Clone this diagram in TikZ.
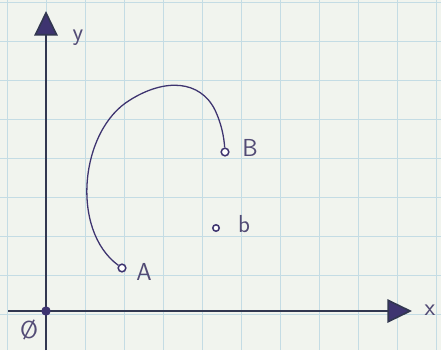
\documentclass[tikz,border=0pt]{standalone}
\usetikzlibrary{positioning, arrows.meta, calc}
\definecolor{paper}{RGB}{241,244,238}
\definecolor{gridblue}{RGB}{196,220,228}
\definecolor{ink}{RGB}{62,52,112}
\definecolor{axisink}{RGB}{50,55,80}

\begin{document}
\begin{tikzpicture}[x=0.03cm, y=-0.03cm,
    pt/.style={circle, draw=ink, line width=1.3pt, fill=white, inner sep=0pt, minimum size=6.5pt},
    lbl/.style={font=\sffamily\fontsize{21}{24}\selectfont, text=ink!70!gray, inner sep=1pt},
    axis/.style={axisink, line width=1.4pt, -{Triangle[length=21pt, width=20pt, fill=ink]}}]
    % paper and grid
    \fill[paper] (0,0) rectangle (441,350);
    \useasboundingbox (0,0) rectangle (441,350);
    \foreach \x in {7,46,...,436}
      \draw[gridblue, line width=0.8pt] (\x,0) -- (\x,350);
    \foreach \y in {2,41,...,353}
      \draw[gridblue, line width=0.8pt] (0,\y) -- (441,\y);

    % axes
    \coordinate (origin) at (46,311);
    \coordinate (xstart) at (8,311);
    \coordinate (xend) at (412,311);
    \coordinate (ystart) at (46,350);
    \coordinate (yend) at (46,11);
    \draw[axis] (xstart) -- (xend);
    \draw[axis] (ystart) -- (yend);
    \fill[ink] (origin) circle (4pt);
    \node[lbl] (ylabel) at (78,38) {y};
    \node[lbl] (xlabel) at (430,310) {x};
    \node[lbl] (olabel) at (29,330) {\O};

    % points
    \node[pt] (A) at (122,268) {};
    \node[pt] (B) at (225,152) {};
    \node[pt, minimum size=5.5pt] (b) at (216,228) {};
    \node[lbl] (Alabel) at (144,272) {A};
    \node[lbl] (Blabel) at (250,148) {B};
    \node[lbl] (blabel) at (244,224) {b};

    % path from A to B
    \draw[ink, line width=1.1pt]
      (A) .. controls (70,230) and (80,130) .. (130,100)
          .. controls (165,78) and (200,80) .. (215,110)
          .. controls (222,125) and (224,138) .. (B);
\end{tikzpicture}
\end{document}
